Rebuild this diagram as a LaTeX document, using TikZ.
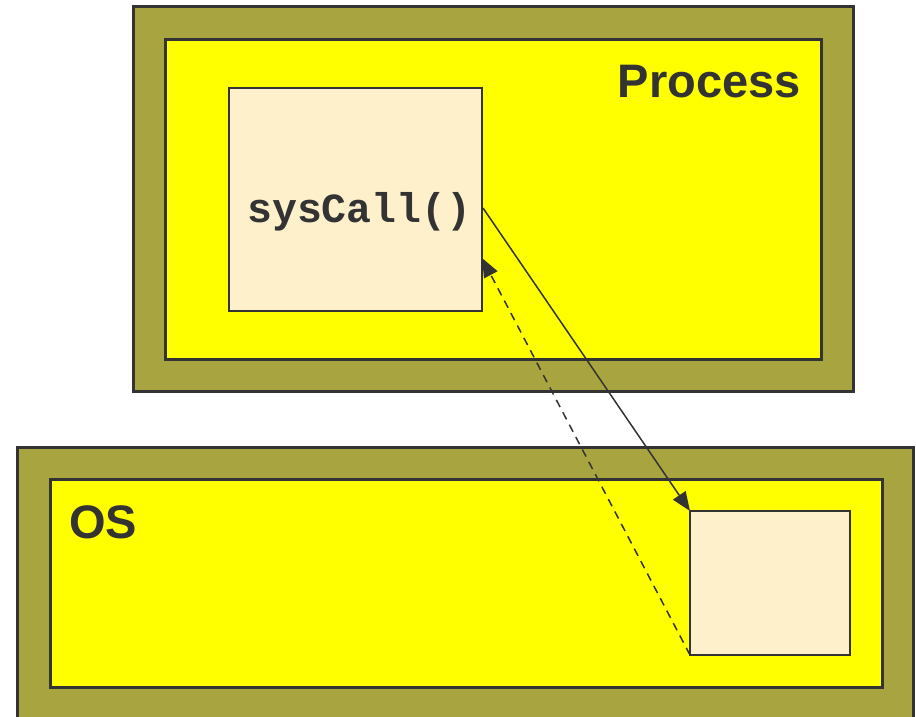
\documentclass[tikz,border=0pt]{standalone}
\usepackage{fontspec}
\setmainfont{Liberation Sans}
\newfontfamily\monof{Liberation Mono}
\usetikzlibrary{arrows.meta}
\definecolor{olive}{HTML}{A8A540}
\definecolor{yel}{HTML}{FFFF00}
\definecolor{cream}{HTML}{FFF0CC}
\definecolor{stroke}{HTML}{333333}
\tikzset{
  frame/.style={draw=stroke, line width=3pt, fill=olive},
  inner/.style={draw=stroke, line width=3pt, fill=yel},
  fnbox/.style={draw=stroke, line width=2pt, fill=cream},
  lbl/.style={font=\bfseries\fontsize{47}{47}\selectfont, text=stroke, inner sep=0pt},
  conn/.style={draw=stroke, line width=1.5pt, -{Triangle[length=19pt,width=15pt]}},
}
\begin{document}
\begin{tikzpicture}[x=1pt,y=-1pt]
\useasboundingbox (0,0) rectangle (916,717);
% process
\draw[frame] (133,7) rectangle (853,391);
\draw[inner] (165,40) rectangle (821,359);
\draw[fnbox] (229,88) rectangle (482,311);
\node[lbl, anchor=base east] (proc) at (801,98) {Process};
\node[font=\monof\bfseries\fontsize{41.5}{41.5}\selectfont, text=stroke, inner sep=0pt, anchor=base west] (sys) at (247,222) {sysCall()};
% os
\draw[frame] (17,447) rectangle (913,730);
\draw[inner] (50,479) rectangle (882,687);
\draw[fnbox] (690,511) rectangle (850,655);
\node[lbl, anchor=base west] (os) at (69,538) {OS};
\coordinate (s1) at (483,208);
\coordinate (e1) at (690,511);
\coordinate (s2) at (690,655);
\coordinate (e2) at (482,258);
\draw[conn] (s1) -- (e1);
\draw[conn, dashed, dash pattern=on 8pt off 6pt] (s2) -- (e2);
\end{tikzpicture}
\end{document}
